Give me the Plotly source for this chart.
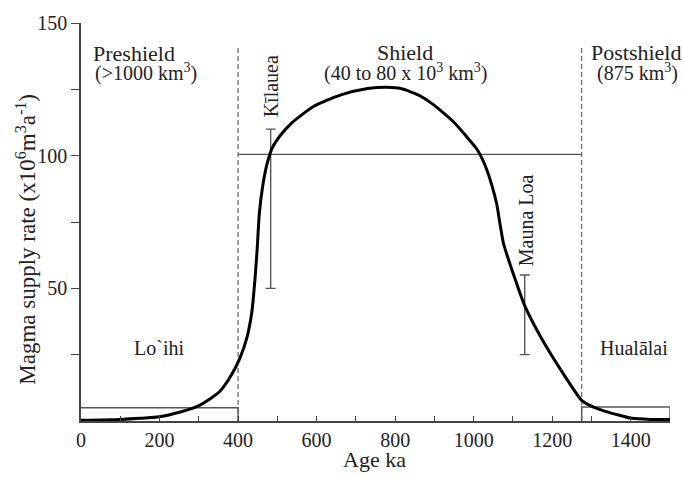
import plotly.graph_objects as go

# Magma supply curve (Age ka vs rate)
curve_age = [0, 100, 150, 200, 253, 296, 330, 355, 384, 405, 422, 435, 443, 449, 454,
             462, 473, 486, 507, 537, 593, 662, 730, 780, 815, 860, 892, 920, 951,
             980, 1008, 1029, 1046, 1059, 1067, 1076, 1089, 1106, 1130, 1173, 1224,
             1275, 1300, 1330, 1360, 1403, 1450, 1500]
curve_rate = [0.3, 0.6, 1.0, 1.6, 3.4, 5.5, 8.5, 11.4, 17.6, 23.8, 31.1, 41, 53.3, 65.6, 78,
              87.8, 96.4, 102.6, 107.5, 112.4, 118.6, 122.9, 125.3, 125.8, 125.3, 122.8, 119.8, 116.5, 112.4,
              107.5, 102.5, 96.4, 89, 81.6, 74.3, 66.9, 60.7, 53.3, 43.5, 31.1, 18.8,
              7.8, 5.6, 3.9, 2.6, 1.0, 0.6, 0.6]

# Phase boundaries (dashed)
boundary_age = [400, 1275]
boundary_top = 141.5

# Shield average line
shield_age = [400, 1275]
shield_rate = [100.5, 100.5]

# Preshield and postshield boxes
pre_age = [0, 400, 400]
pre_rate = [5, 5, 0]
post_age = [1275, 1275, 1500, 1500]
post_rate = [0, 5.3, 5.3, 0]

# Volcano estimates with ranges
volc_age = [483, 1130]
volc_mid = [80, 40]
volc_err = [30, 15]

x_tickvals = list(range(0, 1501, 100))
x_ticktext = [str(v) if v % 200 == 0 else "" for v in x_tickvals]
y_tickvals = [25, 50, 75, 100, 125, 150]
y_ticktext = ["", "50", "", "100", "", "150"]

FONT = "Liberation Serif"
TXT = "#222222"
GREY = "#555555"

fig = go.Figure()

for a in boundary_age:
    fig.add_trace(go.Scatter(x=[a, a], y=[0, boundary_top], mode="lines",
                             line=dict(color="#666666", width=1.2, dash="5px,3px"),
                             hoverinfo="skip", showlegend=False))

fig.add_trace(go.Scatter(x=shield_age, y=shield_rate, mode="lines",
                         line=dict(color=GREY, width=1.4), showlegend=False))
fig.add_trace(go.Scatter(x=pre_age, y=pre_rate, mode="lines",
                         line=dict(color=GREY, width=1.4), showlegend=False))
fig.add_trace(go.Scatter(x=post_age, y=post_rate, mode="lines",
                         line=dict(color=GREY, width=1.4), showlegend=False, cliponaxis=False))

fig.add_trace(go.Scatter(x=volc_age, y=volc_mid, mode="markers",
                         marker=dict(size=1, color="rgba(0,0,0,0)"),
                         error_y=dict(type="data", array=volc_err, visible=True,
                                      color=GREY, thickness=1.4, width=5),
                         showlegend=False))

fig.add_trace(go.Scatter(x=curve_age, y=curve_rate, mode="lines",
                         line=dict(color="black", width=3, shape="spline", smoothing=0.6),
                         showlegend=False))

ann = []
def text(x, y, s, size=20, angle=0, xref="x", yref="y"):
    ann.append(dict(x=x, y=y, xref=xref, yref=yref, text=s, showarrow=False,
                    textangle=angle, font=dict(family=FONT, size=size, color=TXT),
                    xanchor="center", yanchor="middle"))

text(134, 138.5, "Preshield", 22)
text(166, 131.3, "(>1000 km<sup>3</sup>)", 20)
text(826, 138.8, "Shield", 22)
text(826, 131.3, "(40 to 80 x 10<sup>3</sup> km<sup>3</sup>)", 20)
text(1414, 138.8, "Postshield", 22)
text(1418, 131.3, "(875 km<sup>3</sup>)", 20)
text(483, 126, "Kīlauea", 20, -90)
text(1132, 75.5, "Mauna Loa", 20, -90)
text(198, 27.4, "Lo`ihi", 20)
text(1409, 27.4, "Hualālai", 20)
text(-0.093, 0.456, "Magma supply rate (x10<sup>6</sup>m<sup>3</sup>a<sup>-1</sup>)", 23, -90, "paper", "paper")
text(0.498, -0.096, "Age ka", 22, 0, "paper", "paper")

fig.update_layout(
    width=683, height=477,
    margin=dict(l=81, r=13, t=15, b=56),
    paper_bgcolor="white", plot_bgcolor="white",
    font=dict(family=FONT, size=20, color=TXT),
    annotations=ann,
    xaxis=dict(range=[0, 1500], tickvals=x_tickvals, ticktext=x_ticktext,
               ticks="inside", ticklen=5, tickwidth=1.2, tickcolor="#444444",
               showline=True, linecolor="#444444", linewidth=1.6,
               showgrid=False, zeroline=False, tickfont=dict(size=20)),
    yaxis=dict(range=[0, 150], tickvals=y_tickvals, ticktext=y_ticktext,
               ticks="outside", ticklen=8, tickwidth=1.2, tickcolor="#444444",
               showline=True, linecolor="#444444", linewidth=1.6,
               showgrid=False, zeroline=False, tickfont=dict(size=20)),
)

fig.write_html("out.html")
